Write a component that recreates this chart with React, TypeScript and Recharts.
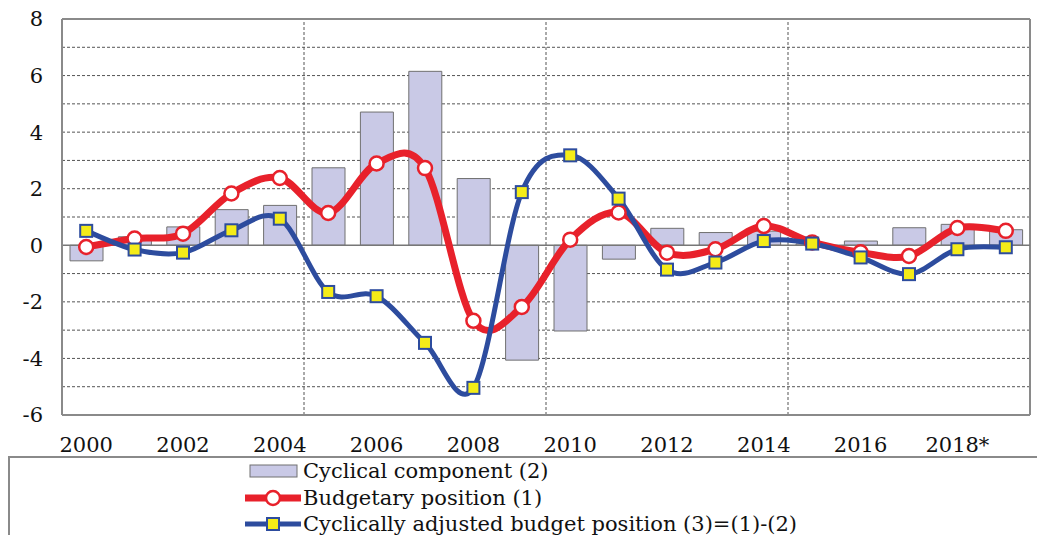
import { Bar, CartesianGrid, ComposedChart, Legend, Line, ReferenceLine, XAxis, YAxis } from 'recharts';

const years = ['2000', '2001', '2002', '2003', '2004', '2005', '2006', '2007', '2008', '2009', '2010', '2011', '2012', '2013', '2014', '2015', '2016', '2017', '2018*', '2019'];
const cyclical = [-0.55, 0.3, 0.65, 1.26, 1.41, 2.74, 4.71, 6.15, 2.36, -4.06, -3.03, -0.49, 0.6, 0.45, 0.5, 0.05, 0.15, 0.62, 0.74, 0.55];
const budgetary = [-0.06, 0.24, 0.41, 1.83, 2.38, 1.14, 2.89, 2.73, -2.67, -2.18, 0.2, 1.16, -0.26, -0.14, 0.68, 0.1, -0.25, -0.38, 0.61, 0.51];
const adjusted = [0.51, -0.15, -0.26, 0.53, 0.94, -1.65, -1.8, -3.45, -5.04, 1.88, 3.18, 1.65, -0.86, -0.61, 0.15, 0.06, -0.43, -1.02, -0.14, -0.07];
const yTicks = [-6, -4, -2, 0, 2, 4, 6, 8];
const gridValues = [-5, -4, -3, -2, -1, 1, 2, 3, 4, 5, 6, 7];
const dividers = ['2004', '2009', '2014'];

const RED = '#e8212b';
const BLUE = '#2d4c9e';
const YELLOW = '#f4ec18';
const BAR = '#c9c9e6';
const FONT = '"DejaVu Serif", serif';

const data = years.map((year, i) => ({ year, cyclical: cyclical[i], budgetary: budgetary[i], adjusted: adjusted[i] }));

// excel-like smoothing (catmull-rom through the points)
function smooth(context: any) {
  let pts: number[][] = [];
  return {
    areaStart() {},
    areaEnd() {},
    lineStart() { pts = []; },
    point(x: number, y: number) { pts.push([+x, +y]); },
    lineEnd() {
      if (!pts.length) return;
      context.moveTo(pts[0][0], pts[0][1]);
      for (let i = 0; i < pts.length - 1; i++) {
        const p0 = pts[i - 1] || pts[i];
        const p1 = pts[i];
        const p2 = pts[i + 1];
        const p3 = pts[i + 2] || p2;
        context.bezierCurveTo(
          p1[0] + (p2[0] - p0[0]) / 6, p1[1] + (p2[1] - p0[1]) / 6,
          p2[0] - (p3[0] - p1[0]) / 6, p2[1] - (p3[1] - p1[1]) / 6,
          p2[0], p2[1],
        );
      }
    },
  };
}

const circleDot = (p: any) => <circle key={`c${p.index}`} cx={p.cx} cy={p.cy} r={7} fill="#fff" stroke={RED} strokeWidth={2.5} />;
const squareDot = (p: any) => <rect key={`s${p.index}`} x={p.cx - 6} y={p.cy - 6} width={12} height={12} fill={YELLOW} stroke={BLUE} strokeWidth={2} />;

function LegendBox() {
  const rows = [
    { label: 'Cyclical component (2)', kind: 'bar' },
    { label: 'Budgetary position (1)', kind: 'red' },
    { label: 'Cyclically adjusted budget position (3)=(1)-(2)', kind: 'blue' },
  ];
  return (
    <div style={{ width: 1029, height: 80, borderTop: '2px solid #8a8a8a', borderLeft: '2px solid #8a8a8a', boxSizing: 'border-box', fontFamily: FONT, fontSize: 21, color: '#111' }}>
      {rows.map((row, i) => (
        <div key={row.label} style={{ position: 'absolute', left: 237, top: 2 + i * 26.5, height: 26, display: 'flex', alignItems: 'center', whiteSpace: 'nowrap' }}>
          <svg width={57} height={20}>
            {row.kind === 'bar' && <rect x={5} y={4} width={47} height={12} fill={BAR} stroke="#707070" />}
            {row.kind === 'red' && (
              <>
                <line x1={0} y1={10} x2={56} y2={10} stroke={RED} strokeWidth={7} />
                <circle cx={28} cy={10} r={7} fill="#fff" stroke={RED} strokeWidth={2.5} />
              </>
            )}
            {row.kind === 'blue' && (
              <>
                <line x1={0} y1={10} x2={56} y2={10} stroke={BLUE} strokeWidth={5} />
                <rect x={22} y={4} width={12} height={12} fill={YELLOW} stroke={BLUE} strokeWidth={2} />
              </>
            )}
          </svg>
          <span style={{ marginLeft: 1 }}>{row.label}</span>
        </div>
      ))}
    </div>
  );
}

export default function App() {
  return (
    <div style={{ position: 'absolute', left: 0, top: 0, background: '#fff' }}>
      <ComposedChart width={1037} height={535} data={data} margin={{ top: 19, right: 7, bottom: 90, left: 0 }}>
        <CartesianGrid vertical={false} horizontalValues={gridValues} stroke="#555" strokeDasharray="3 2" strokeWidth={1} />
        {dividers.map((d) => (
          <ReferenceLine key={d} x={d} position="end" stroke="#555" strokeDasharray="3 2" />
        ))}
        <XAxis
          dataKey="year"
          interval={1}
          tickLine={false}
          tickSize={0}
          tickMargin={22}
          axisLine={{ stroke: '#8a8a8a', strokeWidth: 2 }}
          tick={{ fontFamily: FONT, fontSize: 21, fill: '#111' }}
        />
        <YAxis
          domain={[-6, 8]}
          ticks={yTicks}
          width={62}
          tickLine={false}
          tickSize={0}
          tickMargin={19}
          axisLine={{ stroke: '#8a8a8a', strokeWidth: 2 }}
          tick={{ fontFamily: FONT, fontSize: 21, fill: '#111' }}
        />
        <ReferenceLine y={8} stroke="#8a8a8a" strokeWidth={2} />
        <ReferenceLine x="2019" position="end" stroke="#8a8a8a" strokeWidth={2} />
        <ReferenceLine y={0} stroke="#777" strokeWidth={1.5} />
        <Bar dataKey="cyclical" barSize={33} fill={BAR} stroke="#707070" strokeWidth={1} isAnimationActive={false} />
        <Line dataKey="budgetary" type={smooth as any} stroke={RED} strokeWidth={7} dot={circleDot} activeDot={false} isAnimationActive={false} />
        <Line dataKey="adjusted" type={smooth as any} stroke={BLUE} strokeWidth={5} dot={squareDot} activeDot={false} isAnimationActive={false} />
        <Legend layout="vertical" align="center" verticalAlign="middle" wrapperStyle={{ left: 8, top: 456, width: 1029, height: 80 }} content={() => <LegendBox />} />
      </ComposedChart>
    </div>
  );
}
